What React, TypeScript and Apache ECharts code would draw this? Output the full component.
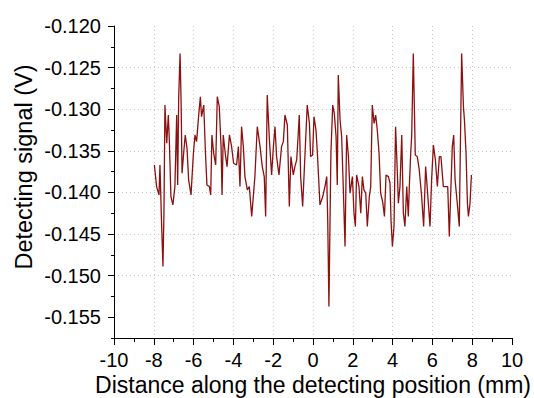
import React, { useEffect, useRef } from "react";
import * as echarts from "echarts";

const xTickValues = [-10, -8, -6, -4, -2, 0, 2, 4, 6, 8, 10];
const yMajorTicks = [-0.155, -0.15, -0.145, -0.14, -0.135, -0.13, -0.125, -0.12];

const positionMm = [
  -7.97, -7.86, -7.74, -7.69, -7.62, -7.54, -7.49, -7.44, -7.35, -7.27, -7.22, -7.14, -7.04, -6.94,
  -6.85, -6.8, -6.75, -6.68, -6.63, -6.58, -6.5, -6.42, -6.33, -6.25, -6.13, -6.01, -5.93, -5.85,
  -5.75, -5.66, -5.6, -5.49, -5.41, -5.33, -5.21, -5.14, -5.08, -4.99, -4.89, -4.81, -4.71, -4.62,
  -4.57, -4.51, -4.41, -4.32, -4.2, -4.09, -3.99, -3.84, -3.75, -3.67,
  -3.59, -3.5, -3.42, -3.3, -3.2, -3.08, -2.92, -2.8, -2.66, -2.55, -2.45, -2.38, -2.3, -2.19,
  -2.08, -1.99, -1.91, -1.83, -1.71, -1.58, -1.49, -1.41, -1.29, -1.19, -1.11, -0.99, -0.91, -0.82,
  -0.74, -0.69, -0.62, -0.52, -0.4, -0.29, -0.18, -0.12, -0.02, 0.05, 0.15, 0.22, 0.35, 0.49,
  0.6, 0.69, 0.74, 0.8, 0.9, 0.99, 1.07, 1.16, 1.22, 1.27, 1.36, 1.44, 1.52, 1.61, 1.69, 1.78,
  1.86, 1.98, 2.06, 2.13, 2.19, 2.31, 2.4, 2.48, 2.56, 2.65, 2.73, 2.83,
  2.9, 2.98, 3.07, 3.15, 3.23, 3.32, 3.4, 3.5, 3.59, 3.67, 3.79, 3.87, 3.92, 3.99, 4.07, 4.15,
  4.24, 4.29, 4.37, 4.46, 4.54, 4.62, 4.71, 4.79, 4.84, 4.91, 4.96, 5.04, 5.09, 5.14, 5.24, 5.34,
  5.46, 5.56, 5.66, 5.76, 5.88, 5.96, 6.05, 6.15, 6.25, 6.35, 6.43, 6.55, 6.68, 6.77, 6.85, 6.92,
  7.0, 7.07, 7.14, 7.25, 7.35, 7.42, 7.47, 7.56, 7.61, 7.69, 7.76, 7.81, 7.89, 7.96,
];

const signalV = [
  -0.1367, -0.1393, -0.1403, -0.1367, -0.1429, -0.1489, -0.1425, -0.1295, -0.1341, -0.1307, -0.1337,
  -0.1405, -0.1415, -0.1393, -0.1307, -0.1391, -0.1287, -0.1233, -0.1289, -0.1377, -0.1353, -0.1331,
  -0.1347, -0.1385, -0.1403, -0.1353, -0.1331, -0.1339, -0.1309, -0.1285, -0.1309, -0.1295, -0.1349,
  -0.1391, -0.1393, -0.1403, -0.1331, -0.1353, -0.1367, -0.1285, -0.1297, -0.1345, -0.1403, -0.1331,
  -0.1353, -0.1369, -0.1331, -0.1345, -0.1365, -0.1367, -0.1345, -0.1393,
  -0.1321, -0.1345, -0.1381, -0.1397, -0.1393, -0.1429, -0.1381, -0.1321, -0.1345, -0.1369, -0.1381,
  -0.1429, -0.1283, -0.1337, -0.1379, -0.1345, -0.1321, -0.1357, -0.1379, -0.1345, -0.1339, -0.1307,
  -0.1319, -0.1417, -0.1357, -0.1379, -0.1369, -0.1361, -0.1329, -0.1307, -0.1381, -0.1417, -0.1353,
  -0.1295, -0.1317, -0.1357, -0.1355, -0.1309, -0.1325, -0.1353, -0.1415, -0.1405, -0.1393, -0.1381,
  -0.1433, -0.1537, -0.1353, -0.1295, -0.1305, -0.1333, -0.1391, -0.1259, -0.1313, -0.1333, -0.1393,
  -0.1465, -0.1331, -0.1357, -0.1401, -0.1381, -0.1425, -0.1441, -0.1379, -0.1393, -0.1425, -0.1381,
  -0.1397, -0.1401, -0.1441, -0.1405,
  -0.1393, -0.1295, -0.1317, -0.1307, -0.1325, -0.1353, -0.1401, -0.1411, -0.1429, -0.1379, -0.1381,
  -0.1389, -0.1433, -0.1465, -0.1441, -0.1321, -0.1377, -0.1413, -0.1393, -0.1331, -0.1425, -0.1441,
  -0.1393, -0.1429, -0.1393, -0.1353, -0.1331, -0.1233, -0.1293, -0.1355, -0.1357, -0.1373, -0.1405,
  -0.1441, -0.1369, -0.1401, -0.1441, -0.1385, -0.1343, -0.1361, -0.1393, -0.1357, -0.1357, -0.1393,
  -0.1393, -0.1393, -0.1453, -0.1401, -0.1345, -0.1331, -0.1385, -0.1413, -0.1441, -0.1321, -0.1233,
  -0.1297, -0.1313, -0.1353, -0.1413, -0.1429, -0.1413, -0.1379,
];

const FONT = '"Liberation Sans", Arial, sans-serif';

export default function App() {
  const ref = useRef<HTMLDivElement>(null);

  useEffect(() => {
    if (!ref.current) return;
    const chart = echarts.init(ref.current, null, { renderer: "svg" });
    const data = positionMm.map((x, i) => [x, signalV[i]]);
    const gridLine = { color: "#c4c4c4", width: 1, type: [1, 3] as number[] };

    chart.setOption({
      animation: false,
      backgroundColor: "#ffffff",
      grid: { left: 114, right: 22, top: 26, bottom: 60, containLabel: false, outerBoundsMode: "none" },
      xAxis: {
        type: "value",
        min: xTickValues[0],
        max: xTickValues[xTickValues.length - 1],
        interval: 2,
        name: "Distance along the detecting position (mm)",
        nameLocation: "middle",
        nameGap: 35,
        nameMoveOverlap: false,
        nameTextStyle: { fontSize: 23, fontFamily: FONT, color: "#000" },
        axisLine: { show: true, onZero: false, lineStyle: { color: "#000", width: 1 } },
        axisTick: { show: true, inside: false, length: 7, lineStyle: { color: "#000", width: 1 } },
        minorTick: { show: true, splitNumber: 2, length: 4, lineStyle: { color: "#000", width: 1 } },
        axisLabel: { fontSize: 20, fontFamily: FONT, color: "#000", margin: 12 },
        splitLine: { show: true, showMinLine: false, showMaxLine: false, lineStyle: gridLine },
        minorSplitLine: { show: false },
      },
      yAxis: [
        {
          type: "value",
          min: -0.1575,
          max: -0.12,
          position: "left",
          axisLine: { show: true, onZero: false, lineStyle: { color: "#000", width: 1 } },
          axisTick: {
            show: true,
            inside: false,
            length: 6,
            customValues: yMajorTicks,
            lineStyle: { color: "#000", width: 1 },
          },
          axisLabel: {
            customValues: yMajorTicks,
            formatter: (v: number) => v.toFixed(3),
            fontSize: 20,
            fontFamily: FONT,
            color: "#000",
            margin: 13,
          },
          splitLine: { show: true, showMinLine: false, showMaxLine: false, lineStyle: gridLine },
        },
        {
          type: "value",
          min: -0.1575,
          max: -0.12,
          interval: 0.0025,
          position: "left",
          axisLine: { show: false, onZero: false },
          axisTick: { show: true, inside: false, length: 3, lineStyle: { color: "#000", width: 1 } },
          axisLabel: { show: false },
          splitLine: { show: false },
        },
      ],
      graphic: [
        {
          type: "text",
          x: 24,
          y: 167,
          rotation: Math.PI / 2,
          style: {
            text: "Detecting signal (V)",
            font: `23.5px ${FONT}`,
            fill: "#000",
            align: "center",
            verticalAlign: "middle",
          },
        },
      ],
      series: [
        {
          type: "line",
          data,
          xAxisIndex: 0,
          yAxisIndex: 0,
          symbol: "none",
          showSymbol: false,
          lineStyle: { color: "#8b1010", width: 1.3 },
        },
      ],
    });
    return () => chart.dispose();
  }, []);

  return (
    <div
      ref={ref}
      style={{ position: "fixed", left: 0, top: 0, width: 534, height: 398, background: "#fff" }}
    />
  );
}
